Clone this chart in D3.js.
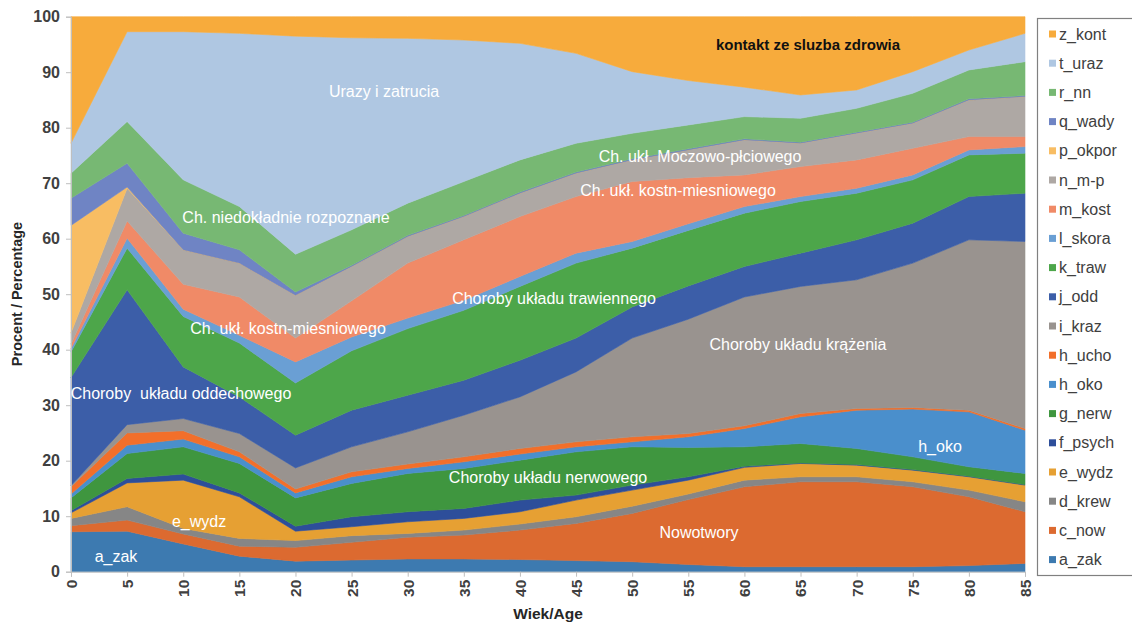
<!DOCTYPE html>
<html><head><meta charset="utf-8">
<script src="https://cdn.jsdelivr.net/npm/d3@7"></script>
<style>
body{margin:0;background:#fff;}
text{font-family:"Liberation Sans",Arial,sans-serif;white-space:pre;}
</style></head>
<body><svg id="c" width="1132" height="625"></svg>
<script>
const ages = [0,5,10,15,20,25,30,35,40,45,50,55,60,65,70,75,80,85];
const seriesNames = ["a_zak","c_now","d_krew","e_wydz","f_psych","g_nerw","h_oko","h_ucho","i_kraz","j_odd","k_traw","l_skora","m_kost","n_m-p","p_okpor","q_wady","r_nn","t_uraz","z_kont"];
const a_zak  = [7.2,7.3,5.0,2.8,1.9,2.1,2.3,2.3,2.2,2.0,1.8,1.3,0.9,0.9,0.9,0.9,1.1,1.5];
const c_now  = [1.1,2.0,1.8,1.8,2.5,3.2,3.9,4.3,5.3,6.7,8.7,11.7,14.4,15.3,15.3,14.4,12.4,9.3];
const d_krew = [1.3,2.4,1.0,1.4,1.2,1.2,0.7,0.9,1.1,1.2,1.3,1.0,1.2,0.9,0.9,0.9,1.2,1.8];
const e_wydz = [1.0,4.3,8.7,7.5,1.7,1.6,2.1,2.1,2.2,3.0,2.9,2.5,2.3,2.4,2.1,2.1,2.4,3.0];
const f_psych= [0.4,0.8,1.1,0.7,0.9,1.8,1.8,1.8,2.1,0.9,0.9,0.6,0.2,0.1,0.1,0.1,0.1,0.1];
const g_nerw = [2.3,4.5,4.9,5.3,5.1,6.0,6.9,7.2,7.2,7.8,6.9,5.3,3.5,3.5,2.9,2.3,1.7,2.0];
const h_oko  = [0.7,1.5,1.4,1.2,0.9,1.2,0.9,1.2,1.1,0.9,0.9,1.9,3.3,4.8,6.9,8.6,9.9,7.8];
const h_ucho = [1.3,2.2,1.5,0.9,0.7,0.9,0.8,0.9,1.0,0.9,0.9,0.6,0.5,0.6,0.3,0.3,0.3,0.3];
const i_kraz = [0.2,1.5,2.2,3.3,3.8,4.5,5.8,7.5,9.3,12.6,17.8,20.6,23.2,22.9,23.2,26.0,30.7,33.7];
const j_odd  = [19.5,24.3,9.3,6.6,5.9,6.6,6.6,6.3,6.6,6.1,5.6,6.0,5.5,6.0,7.2,7.2,7.8,8.7];
const k_traw = [4.6,7.5,9.1,9.7,9.4,10.7,12.0,12.6,13.3,13.5,10.6,10.0,9.6,9.3,8.4,7.8,7.5,7.2];
const l_skora= [0.6,1.8,1.3,1.4,3.8,2.5,1.9,1.8,1.8,1.8,1.2,1.2,1.2,0.9,0.9,0.9,0.9,1.2];
const m_kost = [0.8,3.1,4.5,6.9,4.3,6.5,9.9,10.9,10.8,10.2,10.8,8.3,5.7,5.4,5.1,4.8,2.4,1.8];
const n_mp   = [2.0,5.9,6.2,6.1,7.7,6.2,4.8,4.2,4.2,4.2,3.9,5.0,6.3,4.2,4.8,4.5,6.6,7.2];
const p_okpor= [19.4,0.2,0,0,0,0,0,0,0,0,0,0,0,0,0,0,0,0];
const q_wady = [4.9,4.3,3.0,2.4,0.6,0.2,0.2,0.2,0.2,0.2,0.2,0.2,0.2,0.2,0.2,0.2,0.2,0.2];
const r_nn   = [4.5,7.5,9.6,7.8,6.8,6.4,5.8,6.1,5.8,5.2,4.6,4.3,4.0,4.3,4.3,5.2,5.2,6.1];
const t_uraz = [5.4,16.2,26.7,31.2,39.3,34.6,29.7,25.5,21.0,16.2,11.1,8.0,5.3,4.2,3.3,3.9,3.6,5.1];
const z_kont = [22.8,2.7,2.7,3.0,3.5,3.8,3.9,4.2,4.8,6.6,9.9,11.5,12.7,14.1,13.2,9.9,6.0,3.0];
const yTicks = [0,10,20,30,40,50,60,70,80,90,100];

const seriesValues = [a_zak,c_now,d_krew,e_wydz,f_psych,g_nerw,h_oko,h_ucho,i_kraz,j_odd,k_traw,l_skora,m_kost,n_mp,p_okpor,q_wady,r_nn,t_uraz,z_kont];
const colors = ["#3d7ab0","#dc6a30","#868686","#e6a033","#2d4e9a","#3f963f","#4a8fcc","#f26f2a","#99938f","#3c5ea8","#4da64a","#6a9fd4","#f08a67","#aea8a4","#f8bd63","#6f84c4","#77b873","#afc7e2","#f7ab3c"];

const labels = [
  {t:"Urazy i zatrucia", x:384, y:91, c:"#fff"},
  {t:"kontakt ze sluzba zdrowia", x:808, y:45, c:"#111", b:true},
  {t:"Ch. ukł. Moczowo-płciowego", x:700, y:156, c:"#fff"},
  {t:"Ch. ukł. kostn-miesniowego", x:678, y:190, c:"#fff"},
  {t:"Ch. niedokładnie rozpoznane", x:286, y:217, c:"#fff"},
  {t:"Choroby układu trawiennego", x:554, y:298, c:"#fff"},
  {t:"Ch. ukł. kostn-miesniowego", x:288, y:328, c:"#fff"},
  {t:"Choroby układu krążenia", x:798, y:344, c:"#fff"},
  {t:"Choroby  układu oddechowego", x:181, y:393, c:"#fff"},
  {t:"h_oko", x:940, y:446, c:"#fff"},
  {t:"Choroby układu nerwowego", x:548, y:477, c:"#fff"},
  {t:"e_wydz", x:199, y:521, c:"#fff"},
  {t:"Nowotwory", x:699, y:532, c:"#fff"},
  {t:"a_zak", x:116, y:556, c:"#fff"}
];

const svg = d3.select("#c");
const x = d3.scaleLinear().domain([0,85]).range([71,1025]);
const y = d3.scaleLinear().domain([0,100]).range([571.7,16.7]);

const rows = ages.map((a,i)=>{const r={age:a}; seriesNames.forEach((n,k)=>r[n]=seriesValues[k][i]); return r;});
const stack = d3.stack().keys(seriesNames)(rows);
const area = d3.area().x(d=>x(d.data.age)).y0(d=>y(d[0])).y1(d=>y(d[1]));

svg.append("g").selectAll("path").data(stack).join("path")
  .attr("d",area).attr("fill",(d,i)=>colors[i]).attr("stroke",(d,i)=>colors[i]).attr("stroke-width",0.6);

// axes
const yAxis = d3.axisLeft(y).tickValues(yTicks).tickSize(5).tickPadding(6);
const gy = svg.append("g").attr("transform","translate(71,0)").call(yAxis);
gy.selectAll("text").attr("font-size",16).attr("font-weight","bold").attr("fill","#404040");
gy.selectAll("line,path").attr("stroke","#bfbfbf");

const xAxis = d3.axisBottom(x).tickValues(ages).tickSize(5).tickPadding(0);
const gx = svg.append("g").attr("transform","translate(0,571.7)").call(xAxis);
gx.selectAll("line,path").attr("stroke","#bfbfbf");
gx.selectAll("text").attr("font-size",15.5).attr("font-weight","bold").attr("fill","#404040")
  .attr("text-anchor","end").attr("dy","0.35em").attr("transform","translate(0,8) rotate(-90)")
  .attr("x",0).attr("y",0);

svg.append("text").attr("x",548).attr("y",619).attr("text-anchor","middle")
  .attr("font-size",15.5).attr("font-weight","bold").attr("fill","#262626").text("Wiek/Age");
svg.append("text").attr("transform","translate(22,294) rotate(-90)").attr("text-anchor","middle")
  .attr("font-size",14.5).attr("font-weight","bold").attr("fill","#262626").text("Procent / Percentage");

// in-chart labels
svg.append("g").selectAll("text").data(labels).join("text")
  .attr("x",d=>d.x).attr("y",d=>d.y).attr("text-anchor","middle").attr("dy","0.35em")
  .attr("font-size",d=>d.b?15:16).attr("fill",d=>d.c).attr("font-weight",d=>d.b?"bold":"normal").text(d=>d.t);

// legend
const lg = svg.append("g");
lg.append("rect").attr("x",1037.5).attr("y",18.5).attr("width",100).attr("height",557)
  .attr("fill","#fff").attr("stroke","#808080").attr("stroke-width",1.2);
const legendOrder = seriesNames.map((n,i)=>i).reverse();
const li = lg.selectAll("g.it").data(legendOrder).join("g").attr("class","it")
  .attr("transform",(d,j)=>`translate(1049,${34+j*29.2})`);
li.append("rect").attr("x",0).attr("y",-3.5).attr("width",7).attr("height",7).attr("fill",d=>colors[d]);
li.append("text").attr("x",10).attr("y",0).attr("dy","0.35em").attr("font-size",16).attr("fill","#404040")
  .text(d=>seriesNames[d]);
</script></body></html>
